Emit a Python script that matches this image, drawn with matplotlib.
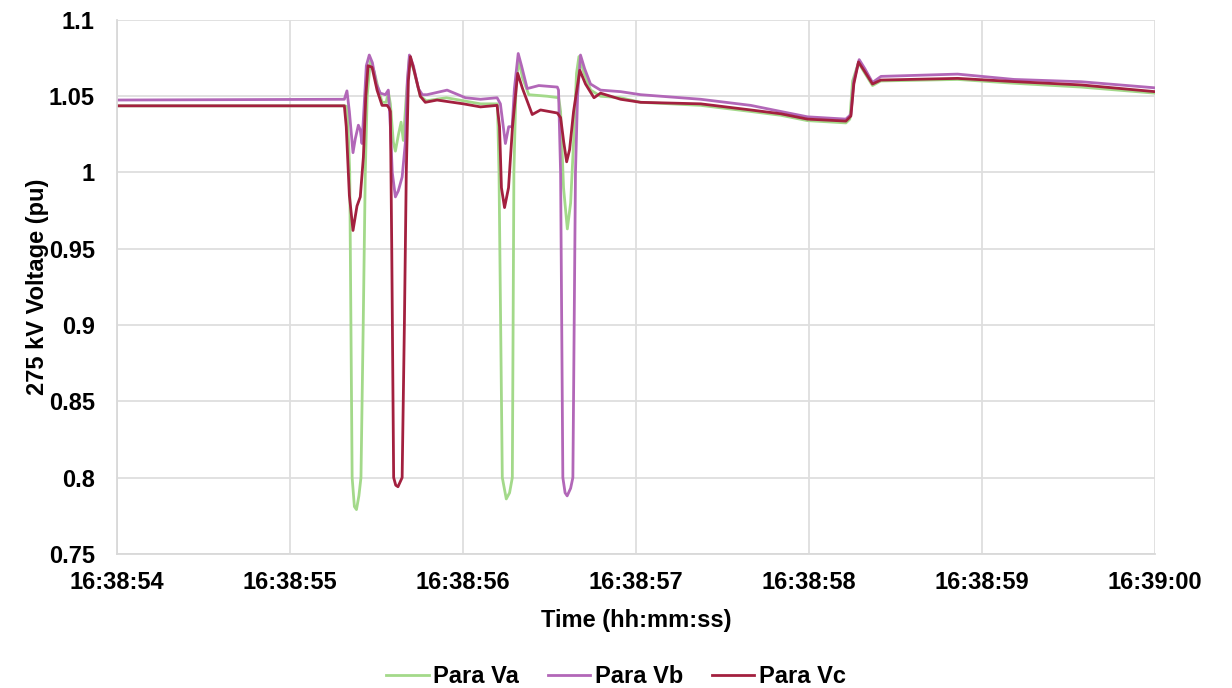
import matplotlib
matplotlib.use("Agg")
import matplotlib.pyplot as plt

# Time in seconds after 16:38:54, voltages in pu
t_va = [0.000, 1.319, 1.331, 1.345, 1.359, 1.372, 1.384, 1.398, 1.410, 1.423, 1.435,
        1.446, 1.464, 1.487, 1.510, 1.532, 1.556, 1.568, 1.580, 1.597, 1.609, 1.627,
        1.642, 1.655, 1.672, 1.690, 1.713, 1.753, 1.788, 1.904, 2.101, 2.199, 2.208,
        2.227, 2.250, 2.269, 2.285, 2.294, 2.307, 2.323, 2.344, 2.380, 2.486, 2.553,
        2.564, 2.581, 2.603, 2.622, 2.639, 2.656, 2.670, 2.700, 2.738, 2.795, 2.911,
        3.027, 3.374, 3.663, 3.837, 3.991, 4.213, 4.236, 4.252, 4.286, 4.323, 4.367,
        4.415, 4.859, 5.185, 5.573, 6.000]
va = [1.0437, 1.0437, 1.043, 1.000, 0.800, 0.781, 0.779, 0.788, 0.800, 0.900, 1.000,
      1.050, 1.073, 1.066, 1.055, 1.046, 1.046, 1.053, 1.045, 1.020, 1.014, 1.025,
      1.033, 1.021, 1.050, 1.075, 1.068, 1.050, 1.047, 1.049, 1.045, 1.045, 1.000,
      0.800, 0.786, 0.790, 0.800, 1.000, 1.060, 1.073, 1.062, 1.051, 1.050, 1.049,
      1.040, 0.990, 0.963, 0.980, 1.020, 1.065, 1.076, 1.065, 1.054, 1.050, 1.049,
      1.046, 1.044, 1.040, 1.0375, 1.034, 1.0325, 1.035, 1.060, 1.072, 1.065, 1.057,
      1.060, 1.061, 1.0585, 1.056, 1.052]

t_vb = [0.000, 1.314, 1.329, 1.343, 1.364, 1.377, 1.395, 1.406, 1.416, 1.429, 1.441,
        1.458, 1.476, 1.499, 1.522, 1.551, 1.568, 1.580, 1.591, 1.609, 1.626, 1.648,
        1.667, 1.678, 1.690, 1.713, 1.742, 1.765, 1.792, 1.908, 2.014, 2.101, 2.197,
        2.216, 2.245, 2.264, 2.284, 2.297, 2.319, 2.338, 2.371, 2.438, 2.545, 2.552,
        2.564, 2.577, 2.590, 2.602, 2.622, 2.635, 2.650, 2.662, 2.679, 2.703, 2.737,
        2.795, 2.911, 3.027, 3.374, 3.663, 3.837, 3.991, 4.213, 4.242, 4.259, 4.290,
        4.323, 4.367, 4.416, 4.859, 5.185, 5.573, 6.000]
vb = [1.0475, 1.048, 1.0535, 1.040, 1.013, 1.022, 1.031, 1.028, 1.019, 1.045, 1.070,
      1.077, 1.072, 1.058, 1.052, 1.051, 1.054, 1.030, 1.000, 0.984, 0.988, 0.997,
      1.020, 1.060, 1.077, 1.070, 1.055, 1.051, 1.051, 1.054, 1.049, 1.048, 1.049,
      1.045, 1.019, 1.030, 1.030, 1.055, 1.078, 1.070, 1.055, 1.057, 1.056, 1.054,
      1.000, 0.800, 0.790, 0.788, 0.793, 0.800, 1.000, 1.050, 1.077, 1.068, 1.058,
      1.054, 1.053, 1.051, 1.048, 1.044, 1.040, 1.0365, 1.035, 1.038, 1.060, 1.074,
      1.068, 1.059, 1.063, 1.0645, 1.061, 1.0595, 1.0555]

t_vc = [0.000, 1.314, 1.325, 1.343, 1.364, 1.387, 1.406, 1.424, 1.438, 1.451, 1.474,
        1.503, 1.532, 1.561, 1.574, 1.580, 1.588, 1.599, 1.611, 1.624, 1.648, 1.661,
        1.672, 1.684, 1.696, 1.719, 1.753, 1.782, 1.850, 2.002, 2.101, 2.197, 2.211,
        2.222, 2.240, 2.263, 2.286, 2.316, 2.344, 2.400, 2.448, 2.545, 2.564, 2.582,
        2.599, 2.616, 2.639, 2.675, 2.708, 2.757, 2.795, 2.911, 3.027, 3.374, 3.663,
        3.837, 3.991, 4.213, 4.242, 4.259, 4.286, 4.323, 4.367, 4.415, 4.859, 5.185,
        5.573, 6.000]
vc = [1.0437, 1.0437, 1.030, 0.985, 0.962, 0.978, 0.984, 1.010, 1.050, 1.070, 1.069,
      1.054, 1.044, 1.044, 1.042, 1.040, 0.950, 0.800, 0.795, 0.794, 0.800, 0.900,
      1.000, 1.060, 1.076, 1.066, 1.050, 1.046, 1.0475, 1.045, 1.043, 1.044, 1.030,
      0.990, 0.977, 0.990, 1.030, 1.065, 1.055, 1.038, 1.041, 1.039, 1.036, 1.020,
      1.007, 1.015, 1.040, 1.067, 1.058, 1.049, 1.052, 1.048, 1.046, 1.045, 1.041,
      1.0385, 1.035, 1.0337, 1.037, 1.058, 1.0725, 1.066, 1.058, 1.0606, 1.0617,
      1.0596, 1.0574, 1.053]

x_ticks = [0, 1, 2, 3, 4, 5, 6]
x_labels = ['16:38:54', '16:38:55', '16:38:56', '16:38:57', '16:38:58', '16:38:59', '16:39:00']
y_ticks = [0.75, 0.8, 0.85, 0.9, 0.95, 1.0, 1.05, 1.1]
y_labels = ['0.75', '0.8', '0.85', '0.9', '0.95', '1', '1.05', '1.1']

plt.rcParams['font.family'] = ['Liberation Sans', 'DejaVu Sans']
plt.rcParams['font.weight'] = 'bold'

fig = plt.figure(figsize=(12.32, 6.88), dpi=100)
ax = fig.add_axes([0.095, 0.195, 0.8425, 0.776])

ax.plot(t_va, va, color='#a3d98a', linewidth=2.0, label='Para Va')
ax.plot(t_vb, vb, color='#b267b8', linewidth=2.0, label='Para Vb')
ax.plot(t_vc, vc, color='#a3203f', linewidth=2.0, label='Para Vc')

ax.set_xlim(0, 6)
ax.set_ylim(0.75, 1.1)
ax.set_xticks(x_ticks)
ax.set_xticklabels(x_labels, fontsize=17, fontweight='bold')
ax.set_yticks(y_ticks)
ax.set_yticklabels(y_labels, fontsize=17, fontweight='bold')
ax.tick_params(length=0)
ax.tick_params(axis='x', pad=12)
ax.tick_params(axis='y', pad=16)

ax.grid(True, color='#dedede', linewidth=1.3)
ax.set_axisbelow(True)
for s in ['top', 'right']:
    ax.spines[s].set_visible(False)
for s in ['left', 'bottom']:
    ax.spines[s].set_color('#d9d9d9')
    ax.spines[s].set_linewidth(1.3)

ax.set_xlabel('Time (hh:mm:ss)', fontsize=17, fontweight='bold', labelpad=11)
ax.set_ylabel('275 kV Voltage (pu)', fontsize=17, fontweight='bold', labelpad=0)

fig.legend(loc='center', ncol=3, frameon=False, fontsize=17,
           bbox_to_anchor=(0.5, 0.017), handlelength=1.8, columnspacing=1.2,
           handletextpad=0.2)

fig.savefig('out.png', dpi=100)
